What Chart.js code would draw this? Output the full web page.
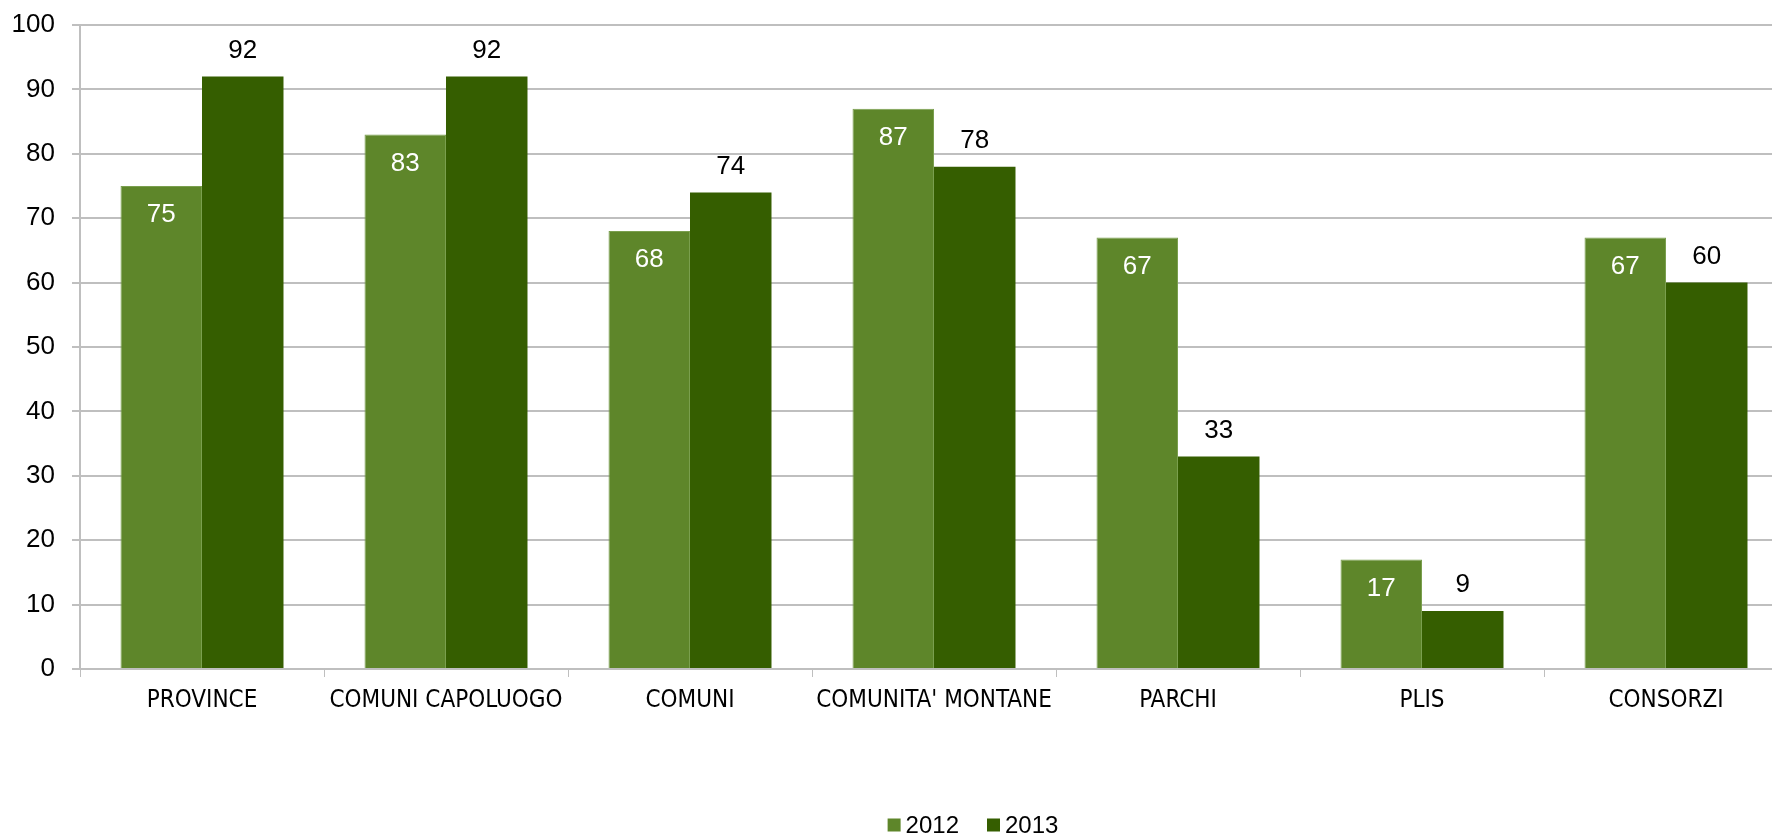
<!DOCTYPE html>
<html>
<head>
<meta charset="utf-8">
<script src="https://cdn.jsdelivr.net/npm/chart.js@4"></script>
<style>
html,body{margin:0;padding:0;background:#fff;overflow:hidden;}
#wrap{width:1946px;height:838px;}
</style>
</head>
<body>
<div id="wrap"><canvas id="c" width="1946" height="838"></canvas></div>
<script>
const categories = ["PROVINCE", "COMUNI CAPOLUOGO", "COMUNI", "COMUNITA' MONTANE", "PARCHI", "PLIS", "CONSORZI"];
const series2012 = [75, 83, 68, 87, 67, 17, 67];
const series2013 = [92, 92, 74, 78, 33, 9, 60];
const seriesNames = ["2012", "2013"];
const yTicks = [0, 10, 20, 30, 40, 50, 60, 70, 80, 90, 100];

const labelPlugin = {
  id: 'valueLabels',
  afterDatasetsDraw(chart) {
    const ctx = chart.ctx;
    ctx.save();
    ctx.font = '26px "Liberation Sans", Arial, sans-serif';
    ctx.textAlign = 'center';
    ctx.textBaseline = 'middle';
    chart.data.datasets.forEach((ds, di) => {
      const meta = chart.getDatasetMeta(di);
      meta.data.forEach((bar, i) => {
        const v = ds.data[i];
        if (di === 0) {
          ctx.fillStyle = '#ffffff';
          ctx.fillText(String(v), bar.x, bar.y + 29);
        } else {
          ctx.fillStyle = '#000000';
          ctx.fillText(String(v), bar.x, bar.y - 26);
        }
      });
    });
    ctx.restore();
  },
  afterDraw(chart) {
    const ctx = chart.ctx;
    ctx.save();
    ctx.font = '24px "Liberation Sans", Arial, sans-serif';
    ctx.textBaseline = 'middle';
    ctx.textAlign = 'left';
    const box = 13, gapText = 5, gapItem = 28;
    const ds = chart.data.datasets;
    const widths = ds.map(d => ctx.measureText(d.label).width);
    let total = 0;
    widths.forEach((w, i) => { total += box + gapText + w + (i < widths.length - 1 ? gapItem : 0); });
    let x = chart.width / 2 - total / 2;
    const cy = 825;
    ds.forEach((d, i) => {
      ctx.fillStyle = d.backgroundColor;
      ctx.fillRect(x, cy - box / 2, box, box);
      x += box + gapText;
      ctx.fillStyle = '#000';
      ctx.fillText(d.label, x, cy + 1);
      x += widths[i] + gapItem;
    });
    ctx.restore();
  }
};

new Chart(document.getElementById('c'), {
  type: 'bar',
  data: {
    labels: categories,
    datasets: [
      { label: seriesNames[0], data: series2012, backgroundColor: '#5E862A', borderColor: '#7A9F4E', borderWidth: 1, borderSkipped: 'bottom' },
      { label: seriesNames[1], data: series2013, backgroundColor: '#355E00', borderColor: '#355E00', borderWidth: 0 }
    ]
  },
  options: {
    responsive: false,
    animation: false,
    devicePixelRatio: 1,
    layout: { padding: { top: 25, right: 158, left: 0, bottom: 0 } },
    datasets: { bar: { categoryPercentage: 0.668, barPercentage: 1.0 } },
    plugins: {
      legend: { display: false },
      tooltip: { enabled: false }
    },
    scales: {
      x: {
        grid: { drawOnChartArea: false, offset: true, tickLength: 8, color: '#bfbfbf', lineWidth: 1 },
        border: { display: true, color: '#bfbfbf', width: 2 },
        ticks: { color: '#000', padding: 9, maxRotation: 0, autoSkip: false, font: { family: '"DejaVu Sans Condensed", "DejaVu Sans", Verdana, sans-serif', size: 24 } },
        afterFit(s) { s.height = 169; }
      },
      y: {
        min: 0, max: 100,
        afterBuildTicks(s) { s.ticks = yTicks.map(v => ({ value: v })); },
        grid: { color: '#bfbfbf', lineWidth: 2, tickLength: 8 },
        border: { display: true, color: '#bfbfbf', width: 2 },
        ticks: { color: '#000', padding: 17, font: { family: '"Liberation Sans", Arial, sans-serif', size: 26, lineHeight: 0.6 } },
        afterFit(s) { s.width = 80; }
      }
    }
  },
  plugins: [labelPlugin]
});
</script>
</body>
</html>
